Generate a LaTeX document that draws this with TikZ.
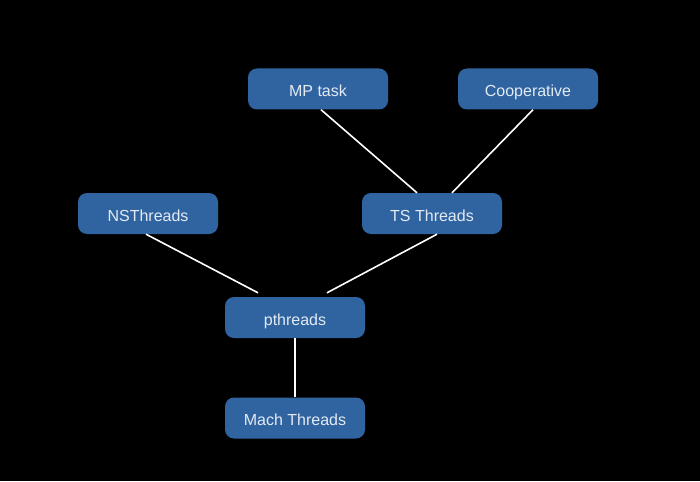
\documentclass[tikz,border=0pt]{standalone}
\usepackage{fontspec}
\setmainfont{Liberation Sans}
\usetikzlibrary{calc}
\definecolor{boxblue}{HTML}{2F64A0}
\definecolor{boxtext}{HTML}{E4EAF2}
\begin{document}
\begin{tikzpicture}[x=1pt,y=-1pt,
  box/.style={draw=none,fill=boxblue,rounded corners=9pt,minimum width=140pt,minimum height=41pt,
    inner sep=0pt,text height=15pt,text depth=0pt,text=boxtext,font=\fontsize{16}{19}\selectfont},
  link/.style={draw=white,line width=1.6pt}]
\fill[black] (0,0) rectangle (700,481);
\useasboundingbox (0,0) rectangle (700,481);
\node[box] (mp) at (318,89) {MP task};
\node[box] (coop) at (528,89) {Cooperative};
\node[box] (ns) at (148,213.5) {NSThreads};
\node[box] (ts) at (432,213.5) {TS Threads};
\node[box] (pt) at (295,317.5) {pthreads};
\node[box] (mach) at (295,418) {Mach Threads};
\draw[link] ($(mp.south)+(3,0)$) -- ($(ts.north)+(-15,0)$);
\draw[link] ($(coop.south)+(5,0)$) -- ($(ts.north)+(20,0)$);
\draw[link] ($(ns.south)+(-2,0)$) -- ($(pt.north)+(-37,-4)$);
\draw[link] ($(ts.south)+(5,0)$) -- ($(pt.north)+(32,-4)$);
\draw[link] (pt.south) -- (mach.north);
\end{tikzpicture}
\end{document}
